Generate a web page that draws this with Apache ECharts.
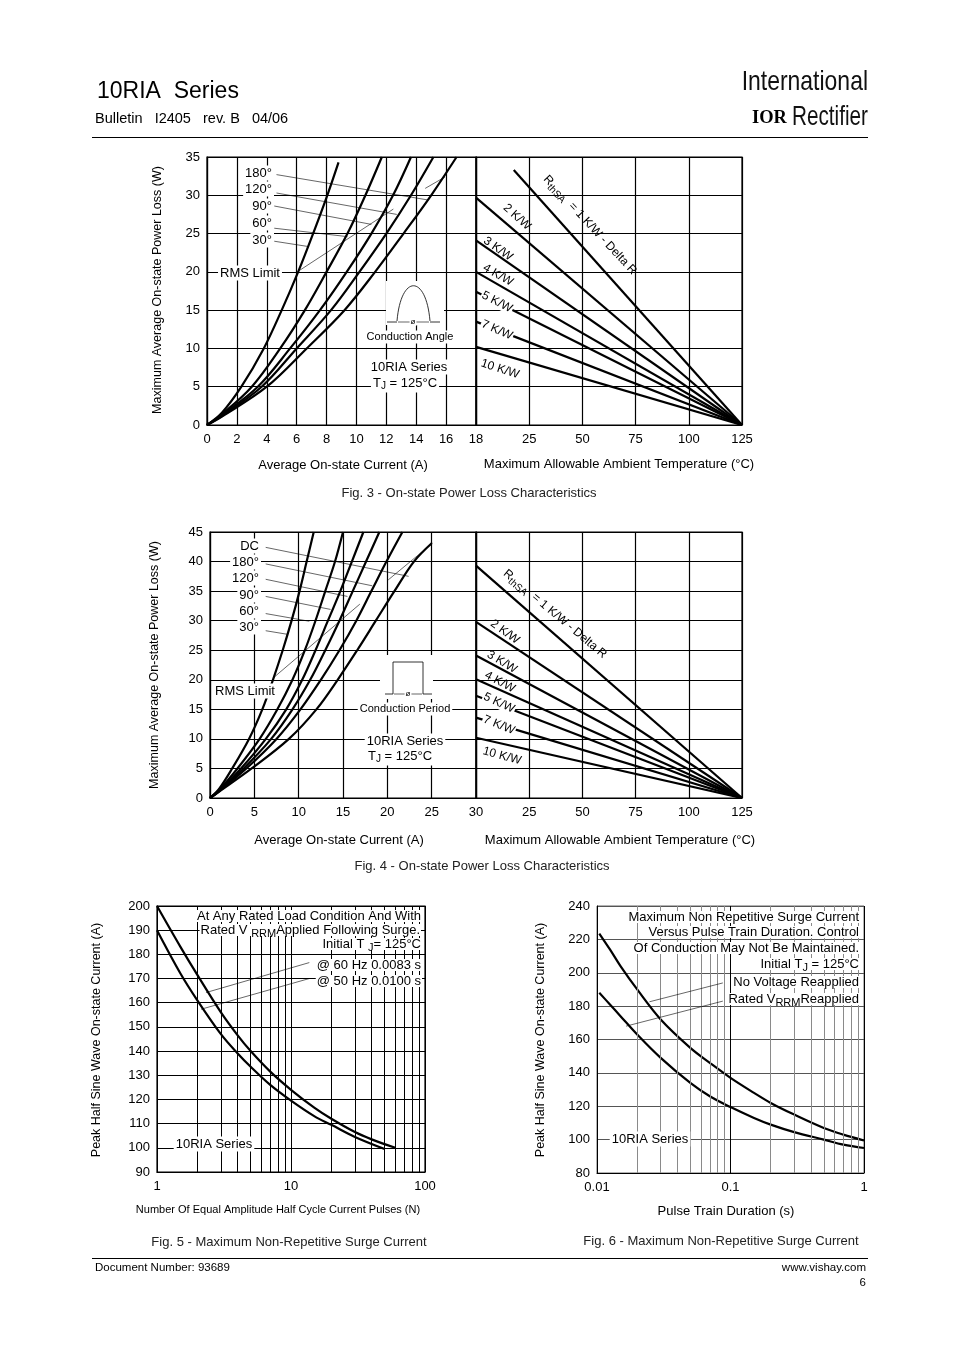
<!DOCTYPE html>
<html>
<head>
<meta charset="utf-8">
<script src="https://cdn.jsdelivr.net/npm/echarts/dist/echarts.min.js"></script>
<style>html,body{margin:0;padding:0;background:#fff}#c{width:954px;height:1351px}</style>
</head>
<body>
<div id="c"></div>
<script>
// ---------------- DATA ----------------
// Fig. 3 - left panel: [average current (A), power loss (W)]
const fig3Angle30  = [[0,0],[1,1.6],[2.3,5],[3.8,10],[5.0,15],[6.1,20],[7.1,25],[8.05,30],[8.8,34.3]];
const fig3Angle60  = [[0,0],[1,1.4],[3.0,5],[4.9,10],[6.55,15],[8.0,20],[9.4,25],[10.6,30],[11.7,35]];
const fig3Angle90  = [[0,0],[1,1.3],[3.4,5],[5.56,10],[7.56,15],[9.35,20],[11.0,25],[12.45,30],[13.65,35]];
const fig3Angle120 = [[0,0],[1,1.2],[3.66,5],[6.0,10],[8.3,15],[10.2,20],[12.0,25],[13.65,30],[15.15,35]];
const fig3Angle180 = [[0,0],[1,1.1],[4.0,5],[6.67,10],[9.2,15],[11.25,20],[13.15,25],[15.0,30],[16.7,35]];
// Fig. 3 - right panel (ambient temperature ticks are evenly spaced)
const fig3TempLabels = ['18','25','50','75','100','125'];
const fig3RthNames = ['1','2','3','4','5','7','10'];
const fig3RthStart = [[0.71,33.3],[0,29.7],[0,24.1],[0,20.0],[0,17.4],[0,13.5],[0,10.2]];
const fig3RthEnd = [5,0];
// leader lines (data units)
const fig3Leaders = [[[4.65,32.7],[14.75,29.4]],[[4.65,30.3],[12.7,27.5]],[[4.5,28.6],[11.0,26.2]],[[4.5,25.7],[9.4,24.6]],[[4.5,24.0],[6.8,23.3]],[[6.2,20.2],[12.47,28.2]],[[14.6,30.9],[15.93,32.4]]];

// Fig. 4 - left panel
const fig4Angle30  = [[0,0],[1,1.5],[2.5,5],[4.4,10],[5.9,15],[7.1,20],[8.2,25],[9.2,30],[10.1,35],[10.9,40],[11.7,45]];
const fig4Angle60  = [[0,0],[1,1.3],[3.1,5],[5.6,10],[7.6,15],[9.3,20],[10.7,25],[11.9,30],[13.0,35],[14.1,40],[15.0,45]];
const fig4Angle90  = [[0,0],[1,1.2],[3.5,5],[6.3,10],[8.6,15],[10.4,20],[11.9,25],[13.3,30],[14.7,35],[16.0,40],[17.3,45]];
const fig4Angle120 = [[0,0],[1,1.15],[3.8,5],[6.9,10],[9.3,15],[11.3,20],[13.0,25],[14.6,30],[16.1,35],[17.6,40],[19.1,45]];
const fig4Angle180 = [[0,0],[1,1.1],[4.1,5],[7.5,10],[10.2,15],[12.5,20],[14.6,25],[16.5,30],[18.2,35],[19.9,40],[21.7,45]];
const fig4DC       = [[0,0],[1,1.05],[4.7,5],[8.9,10],[12.0,15],[14.4,20],[16.6,25],[18.7,30],[20.8,35],[23.0,40],[25.0,43.1]];
const fig4TempLabels = ['30','25','50','75','100','125'];
const fig4RthNames = ['1','2','3','4','5','7','10'];
const fig4RthStart = [[0,39.3],[0,29.8],[0,24.1],[0,20.1],[0,17.3],[0,13.6],[0,10.2]];
const fig4RthEnd = [5,0];
const fig4Leaders = [[[6.28,42.4],[22.4,37.5]],[[6.28,39.6],[18.3,35.9]],[[6.28,37.0],[15.5,34.1]],[[6.28,34.1],[13.6,31.9]],[[6.28,31.2],[11.2,29.9]],[[6.28,28.3],[8.7,27.7]],[[7.2,20.4],[16.9,32.8]],[[20.1,36.9],[25.1,43.1]]];

// Fig. 5 - [pulses N, peak current A]
const fig5Hz60 = [[1,200],[1.5,183],[2,171.5],[3,156],[4,146.5],[5,140],[7,131.5],[10,124],[15,116.5],[20,112],[30,106.5],[40,103.5],[60,100]];
const fig5Hz50 = [[1,190],[1.5,172],[2,161],[3,147],[4,139],[5,133.5],[7,126],[10,119.5],[15,113],[20,109.5],[30,104.5],[50,99.5]];
const fig5Minor = [2,3,4,5,6,7,8,9,20,30,40,50,60,70,80,90];
const fig5Leaders = [[[13.7,176.6],[2.32,164.2]],[[13.7,170],[2.13,157.3]]];

// Fig. 6 - [pulse train duration s, peak current A]
const fig6NoVoltage = [[0.0104,223.5],[0.0125,214],[0.015,204],[0.02,190],[0.03,172],[0.05,155],[0.07,146],[0.1,137],[0.15,128],[0.2,122],[0.3,115],[0.5,107],[0.7,103],[1,99.5]];
const fig6RatedVrrm = [[0.0104,188],[0.0125,181],[0.015,174],[0.02,163],[0.03,149],[0.05,134],[0.07,126],[0.1,119.5],[0.15,113],[0.2,109],[0.3,104.5],[0.5,100],[0.7,97],[1,95]];
const fig6Minor = [0.02,0.03,0.04,0.05,0.06,0.07,0.08,0.09,0.2,0.3,0.4,0.5,0.6,0.7,0.8,0.9];
const fig6Leaders = [[[0.0876,193.9],[0.0247,182.6]],[[0.0876,183.0],[0.0165,168.0]]];

// ---------------- RENDER ----------------
const FONT = '"Liberation Sans", Arial, Helvetica, sans-serif';
const chart = echarts.init(document.getElementById('c'), null, {renderer:'canvas'});

const GL = {color:'#000', width:1.2};
function xVal(gi, min, max, interval, extra) {
  return Object.assign({type:'value', gridIndex:gi, min, max, interval,
    axisLine:{show:true, lineStyle:GL}, axisTick:{show:false},
    axisLabel:{color:'#000', fontSize:13, fontFamily:FONT, margin:8},
    splitLine:{show:true, lineStyle:GL}}, extra||{});
}
function yVal(gi, min, max, interval, showLabel, extra) {
  return Object.assign({type:'value', gridIndex:gi, min, max, interval,
    axisLine:{show:true, lineStyle:GL}, axisTick:{show:false},
    axisLabel:{show:showLabel, color:'#000', fontSize:13, fontFamily:FONT, margin:7},
    splitLine:{show:true, lineStyle:GL}}, extra||{});
}
function curve(data, xi, yi, extra) {
  return Object.assign({type:'line', data, xAxisIndex:xi, yAxisIndex:yi, smooth:0.35, symbol:'none',
    showSymbol:false, silent:true, animation:false, z:3,
    lineStyle:{color:'#000', width:2.2}}, extra||{});
}
function straight(data, xi, yi, extra) {
  return curve(data, xi, yi, Object.assign({smooth:false}, extra||{}));
}
function leaderMark(list, color, width) {
  return {silent:true, symbol:['none','none'], label:{show:false}, animation:false,
    lineStyle:{color:color||'#000', width:width||0.6, type:'solid'},
    emphasis:{disabled:true},
    data:list.map(p => [{coord:p[0]},{coord:p[1]}])};
}
function minorMark(list, color) {
  return {silent:true, symbol:['none','none'], label:{show:false}, animation:false,
    lineStyle:{color:color, width:1, type:'solid'}, emphasis:{disabled:true},
    data:list.map(v => ({xAxis:v}))};
}

// graphic helpers
function T(x, y, text, o) {
  o = o || {};
  const st = {
    text, fill:o.color||'#000', fontSize:o.size||13, fontFamily:o.family||FONT, fontWeight:o.weight||'normal',
    align:o.align||'center', verticalAlign:'middle', textAlign:o.align||'center', textVerticalAlign:'middle',
    rich:{s:{fontSize:o.sub||10, fontFamily:FONT, fill:o.color||'#000', padding:[7,0,0,0]}}
  };
  if (o.lh) st.lineHeight = o.lh;
  if (o.bg) { st.backgroundColor = '#fff'; st.padding = o.pad || [1,2]; }
  const el = {type:'text', x, y, rotation:o.rot ? o.rot*Math.PI/180 : 0, z:o.z||100, silent:true, style:st};
  if (o.sx) el.scaleX = o.sx;
  return el;
}
function L(x1,y1,x2,y2,w,c) { return {type:'line', z:100, silent:true, shape:{x1,y1,x2,y2}, style:{stroke:c||'#000', lineWidth:w||1}}; }
function R(x,y,w,h) { return {type:'rect', z:90, silent:true, shape:{x,y,width:w,height:h}, style:{fill:'#fff'}}; }

const series = [];
// Fig 3 left
[fig3Angle30, fig3Angle60, fig3Angle90, fig3Angle120, fig3Angle180].forEach((d,i) => {
  series.push(curve(d, 0, 0, i===0 ? {markLine:leaderMark(fig3Leaders)} : {}));
});
// Fig 3 right
fig3RthStart.forEach((s,i) => series.push(straight([s, fig3RthEnd], 1, 1, {name:fig3RthNames[i]+' K/W'})));
// Fig 4 left
[fig4Angle30, fig4Angle60, fig4Angle90, fig4Angle120, fig4Angle180, fig4DC].forEach((d,i) => {
  series.push(curve(d, 2, 2, i===0 ? {markLine:leaderMark(fig4Leaders)} : {}));
});
// Fig 4 right
fig4RthStart.forEach((s,i) => series.push(straight([s, fig4RthEnd], 3, 3, {name:fig4RthNames[i]+' K/W'})));
// Fig 5
series.push(curve(fig5Hz60, 4, 4, {markLine:minorMark(fig5Minor,'#000')}));
series.push(curve(fig5Hz50, 4, 4, {markLine:leaderMark(fig5Leaders)}));
// Fig 6
series.push(curve(fig6NoVoltage, 5, 5, {markLine:minorMark(fig6Minor,'#8a8a8a')}));
series.push(curve(fig6RatedVrrm, 5, 5, {markLine:leaderMark(fig6Leaders)}));

const gridBase = {show:true, borderColor:'#000', borderWidth:1.2, containLabel:false};
const logLabel = {color:'#000', fontSize:13, fontFamily:FONT, margin:8};
const LOGO = '"Liberation Sans Narrow", "Liberation Sans", sans-serif';
const NOTE = {size:13, align:'right', bg:true, pad:[0,1], lh:12, sub:11};

const graphic = [
  // header
  T(97, 92, '10RIA  Series', {size:23, align:'left'}),
  T(95, 119, 'Bulletin   I2405   rev. B   04/06', {size:14.5, align:'left'}),
  L(92, 137.5, 868, 137.5, 1),
  T(868, 82, 'International', {size:28, align:'right', family:LOGO, color:'#111', sx:0.82}),
  T(868, 117, 'Rectifier', {size:28, align:'right', family:LOGO, color:'#111', sx:0.74}),
  T(752, 118, 'IOR', {size:18.5, align:'left', weight:'bold', family:'"Liberation Serif", serif'}),

  // Fig 3 names
  T(158, 290, 'Maximum Average On-state Power Loss (W)', {size:12.5, rot:90}),
  T(343, 465, 'Average On-state Current (A)', {size:13}),
  T(619, 464, 'Maximum Allowable Ambient Temperature (°C)', {size:13}),
  T(469, 493, 'Fig. 3 - On-state Power Loss Characteristics', {size:13, color:'#222'}),
  // Fig 3 annotations
  T(274, 173, '180°', {align:'right', bg:true}),
  T(274, 189, '120°', {align:'right', bg:true}),
  T(274, 206, '90°', {align:'right', bg:true}),
  T(274, 223, '60°', {align:'right', bg:true}),
  T(274, 240, '30°', {align:'right', bg:true}),
  T(250, 273, 'RMS Limit', {bg:true}),
  R(386, 281, 58, 44),
  {type:'bezierCurve', z:95, silent:true, shape:{x1:397,y1:321,x2:430,y2:321,cpx1:401,cpy1:274,cpx2:426,cpy2:274}, style:{stroke:'#000', fill:null, lineWidth:0.8}},
  L(387, 322, 397, 322, 0.8), L(430, 322, 440, 322, 0.8), L(398, 322, 429, 322, 0.6),
  T(413, 322, 'ø', {size:8, bg:true, pad:[0,1]}),
  T(410, 337, 'Conduction Angle', {size:11, bg:true}),
  T(409, 367, '10RIA Series', {bg:true}),
  T(405, 383, 'T{s|J} = 125°C', {bg:true}),
  // Fig 3 right labels
  T(590, 225, 'R{s|thSA}  = 1 K/W - Delta R', {size:12, rot:-47}),
  T(517, 217, '2 K/W', {size:12, rot:-42}),
  T(498, 249, '3 K/W', {size:12, rot:-35}),
  T(498, 275, '4 K/W', {size:12, rot:-30}),
  T(497, 302, '5 K/W', {size:12, rot:-27, bg:true, pad:[0,1]}),
  T(497, 330, '7 K/W', {size:12, rot:-24, bg:true, pad:[0,1]}),
  T(500, 369, '10 K/W', {size:12, rot:-18}),

  // Fig 4 names
  T(155, 665, 'Maximum Average On-state Power Loss (W)', {size:12.5, rot:90}),
  T(339, 840, 'Average On-state Current (A)', {size:13}),
  T(620, 840, 'Maximum Allowable Ambient Temperature (°C)', {size:13}),
  T(482, 866, 'Fig. 4 - On-state Power Loss Characteristics', {size:13, color:'#222'}),
  // Fig 4 annotations
  T(261, 546, 'DC', {align:'right', bg:true}),
  T(261, 562, '180°', {align:'right', bg:true}),
  T(261, 578, '120°', {align:'right', bg:true}),
  T(261, 595, '90°', {align:'right', bg:true}),
  T(261, 611, '60°', {align:'right', bg:true}),
  T(261, 627, '30°', {align:'right', bg:true}),
  T(245, 691, 'RMS Limit', {bg:true}),
  R(380, 655, 53, 44),
  {type:'polyline', z:95, silent:true, shape:{points:[[393,694],[393,662],[423,662],[423,694]]}, style:{stroke:'#000', fill:null, lineWidth:0.8}},
  L(385, 694, 393, 694, 0.8), L(423, 694, 432, 694, 0.8), L(394, 694, 422, 694, 0.6),
  T(408, 694, 'ø', {size:8, bg:true, pad:[0,1]}),
  T(405, 709, 'Conduction Period', {size:11, bg:true}),
  T(405, 741, '10RIA Series', {bg:true}),
  T(400, 756, 'T{s|J} = 125°C', {bg:true}),
  // Fig 4 right labels
  T(555, 614, 'R{s|thSA}  = 1 K/W - Delta R', {size:12, rot:-40}),
  T(505, 632, '2 K/W', {size:12, rot:-36}),
  T(502, 662, '3 K/W', {size:12, rot:-31}),
  T(500, 682, '4 K/W', {size:12, rot:-28}),
  T(499, 703, '5 K/W', {size:12, rot:-25, bg:true, pad:[0,1]}),
  T(499, 725, '7 K/W', {size:12, rot:-22, bg:true, pad:[0,1]}),
  T(502, 756, '10 K/W', {size:12, rot:-15}),

  // Fig 5
  T(97, 1040, 'Peak Half Sine Wave On-state Current (A)', {size:12.5, rot:90}),
  T(278, 1210, 'Number Of Equal Amplitude Half Cycle Current Pulses (N)', {size:11}),
  T(289, 1242, 'Fig. 5 - Maximum Non-Repetitive Surge Current', {size:13, color:'#222'}),
  T(422, 916, 'At Any Rated Load Condition And With', NOTE),
  T(421, 930, 'Rated V {s|RRM}Applied Following Surge.', NOTE),
  T(422, 944, 'Initial T {s|J}= 125°C', NOTE),
  T(422, 965, '@ 60 Hz 0.0083 s', NOTE),
  T(422, 981, '@ 50 Hz 0.0100 s', NOTE),
  T(214, 1144, '10RIA Series', {bg:true}),

  // Fig 6
  T(541, 1040, 'Peak Half Sine Wave On-state Current (A)', {size:12.5, rot:90}),
  T(726, 1211, 'Pulse Train Duration (s)', {size:13}),
  T(721, 1241, 'Fig. 6 - Maximum Non-Repetitive Surge Current', {size:13, color:'#222'}),
  T(860, 917, 'Maximum Non Repetitive Surge Current', NOTE),
  T(860, 932, 'Versus Pulse Train Duration. Control', NOTE),
  T(860, 948, 'Of Conduction May Not Be Maintained.', NOTE),
  T(860, 964, 'Initial T{s|J} = 125°C', NOTE),
  T(860, 982, 'No Voltage Reapplied', NOTE),
  T(860, 999, 'Rated V{s|RRM}Reapplied', NOTE),
  T(650, 1139, '10RIA Series', {bg:true}),

  // footer
  L(92, 1258.5, 868, 1258.5, 1),
  T(95, 1268, 'Document Number: 93689', {size:11.5, align:'left'}),
  T(866, 1268, 'www.vishay.com', {size:11.5, align:'right'}),
  T(866, 1283, '6', {size:11.5, align:'right'})
];

const option = {
  backgroundColor:'#fff',
  animation:false,
  grid:[
    Object.assign({left:207, top:157, width:269, height:268}, gridBase),
    Object.assign({left:476, top:157, width:266, height:268}, gridBase),
    Object.assign({left:210, top:532, width:266, height:266}, gridBase),
    Object.assign({left:476, top:532, width:266, height:266}, gridBase),
    Object.assign({left:157, top:906, width:268, height:266}, gridBase),
    Object.assign({left:597, top:906, width:267, height:267}, gridBase, {borderColor:'#666', borderWidth:1})
  ],
  xAxis:[
    xVal(0, 0, 18, 2, {axisLabel:{color:'#000', fontSize:13, fontFamily:FONT, margin:8, showMaxLabel:false}}),
    xVal(1, 0, 5, 1, {axisLabel:{color:'#000', fontSize:13, fontFamily:FONT, margin:8, formatter:v => fig3TempLabels[Math.round(v)]}}),
    xVal(2, 0, 30, 5, {axisLabel:{color:'#000', fontSize:13, fontFamily:FONT, margin:8, showMaxLabel:false}}),
    xVal(3, 0, 5, 1, {axisLabel:{color:'#000', fontSize:13, fontFamily:FONT, margin:8, formatter:v => fig4TempLabels[Math.round(v)]}}),
    {type:'log', logBase:10, gridIndex:4, min:1, max:100, axisLine:{show:true, lineStyle:{color:'#000', width:1}}, axisTick:{show:false},
      axisLabel:logLabel, splitLine:{show:true, lineStyle:{color:'#000', width:1}}, minorSplitLine:{show:false}},
    {type:'log', logBase:10, gridIndex:5, min:0.01, max:1, axisLine:{show:true, lineStyle:{color:'#000', width:1}}, axisTick:{show:false},
      axisLabel:Object.assign({}, logLabel, {formatter:v => String(+v.toPrecision(3))}), splitLine:{show:true, lineStyle:{color:'#000', width:1}}, minorSplitLine:{show:false}}
  ],
  yAxis:[
    yVal(0, 0, 35, 5, true),
    yVal(1, 0, 35, 5, false),
    yVal(2, 0, 45, 5, true),
    yVal(3, 0, 45, 5, false),
    yVal(4, 90, 200, 10, true, {axisLine:{show:true, lineStyle:{color:'#000', width:1}}, splitLine:{show:true, lineStyle:{color:'#000', width:1}}}),
    yVal(5, 80, 240, 20, true, {axisLine:{show:true, lineStyle:{color:'#000', width:1}}, splitLine:{show:true, lineStyle:{color:'#555', width:1}}})
  ],
  series,
  graphic
};
chart.setOption(option);
</script>
</body>
</html>
